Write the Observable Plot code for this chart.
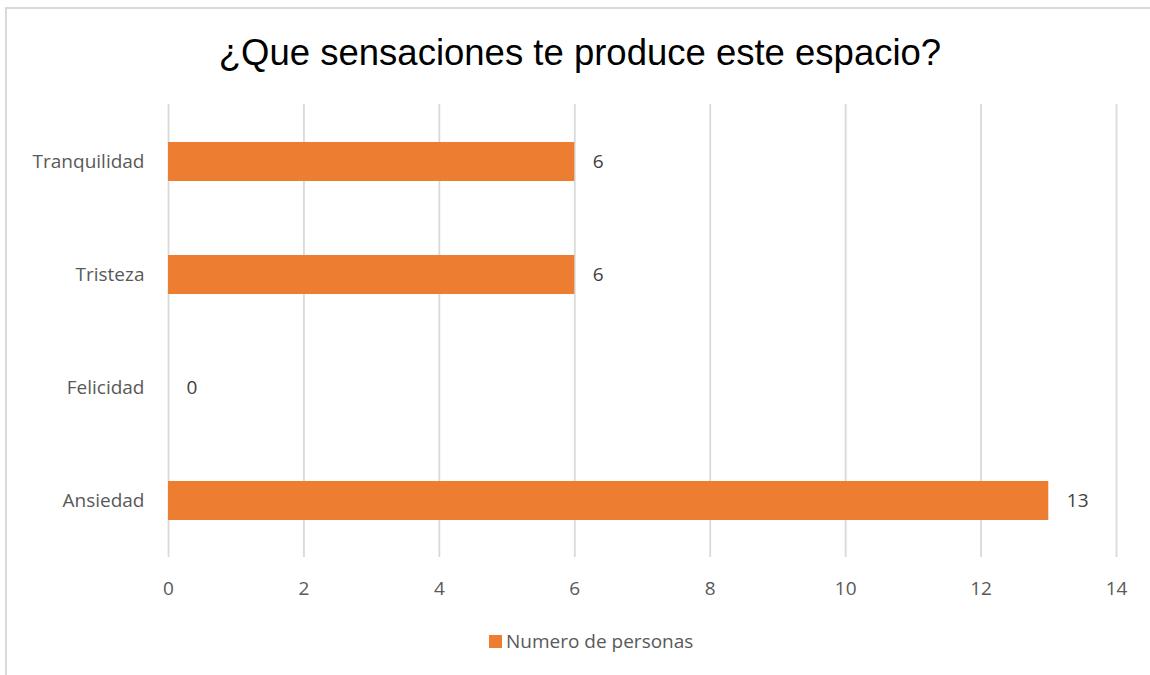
<!DOCTYPE html>
<html>
<head>
<meta charset="utf-8">
<script src="https://cdn.jsdelivr.net/npm/d3@7"></script>
<script src="https://cdn.jsdelivr.net/npm/@observablehq/plot@0.6"></script>
<style>
  html, body { margin: 0; padding: 0; background: #fff; }
  #wrap { position: relative; width: 1150px; height: 675px; overflow: hidden; background: #fff; }
  #frame { position: absolute; left: 5px; top: 7px; width: 1160px; height: 700px; border: 2px solid #d9d9d9; box-sizing: border-box; }
  #title { position: absolute; left: 0; width: 1160px; top: 35px; line-height: 1; text-align: center; font-family: "Liberation Sans", Arial, sans-serif; font-size: 36.5px; color: #000; white-space: nowrap; }
  #chart { position: absolute; left: 0; top: 0; }
  #legend { position: absolute; top: 628px; left: 489px; height: 26px; font-family: "Open Sans", sans-serif; font-size: 19px; color: #595959; display: flex; align-items: center; white-space: nowrap; }
  #legend .sw { width: 13px; height: 13px; background: #ED7D31; margin-right: 4px; }
</style>
</head>
<body>
<div id="wrap">
  <div id="frame"></div>
  <div id="title">¿Que sensaciones te produce este espacio?</div>
  <div id="chart"></div>
  <div id="legend"><span class="sw"></span><span id="legtext"></span></div>
</div>
<script>
const categories = ["Tranquilidad", "Tristeza", "Felicidad", "Ansiedad"];
const values = [6, 6, 0, 13];
const xTicks = [0, 2, 4, 6, 8, 10, 12, 14];
const seriesName = "Numero de personas";

const data = categories.map((c, i) => ({cat: c, val: values[i]}));
document.getElementById("legtext").textContent = seriesName;

const chart = Plot.plot({
  width: 1150,
  height: 600,
  marginTop: 104,
  marginBottom: 43,
  marginLeft: 168,
  marginRight: 34,
  style: {fontFamily: "'Open Sans', sans-serif", fontSize: "19px", color: "#595959", background: "transparent"},
  x: {domain: [0, 14], ticks: xTicks, label: null},
  y: {domain: categories, label: null, paddingInner: 0.655, paddingOuter: 0.3275},
  marks: [
    Plot.gridX(xTicks, {stroke: "#d9d9d9", strokeOpacity: 1, strokeWidth: 1.8}),
    Plot.axisX({ticks: xTicks, tickSize: 0, tickPadding: 24, label: null, fill: "#595959", fontSize: 19}),
    Plot.axisY({tickSize: 0, tickPadding: 24, label: null, fill: "#595959", fontSize: 19}),
    Plot.barX(data, {x: "val", y: "cat", fill: "#ED7D31"}),
    Plot.text(data, {x: "val", y: "cat", text: d => String(d.val), textAnchor: "start", dx: 18, fill: "#404040", fontSize: 19})
  ]
});
document.getElementById("chart").appendChild(chart);
</script>
</body>
</html>
